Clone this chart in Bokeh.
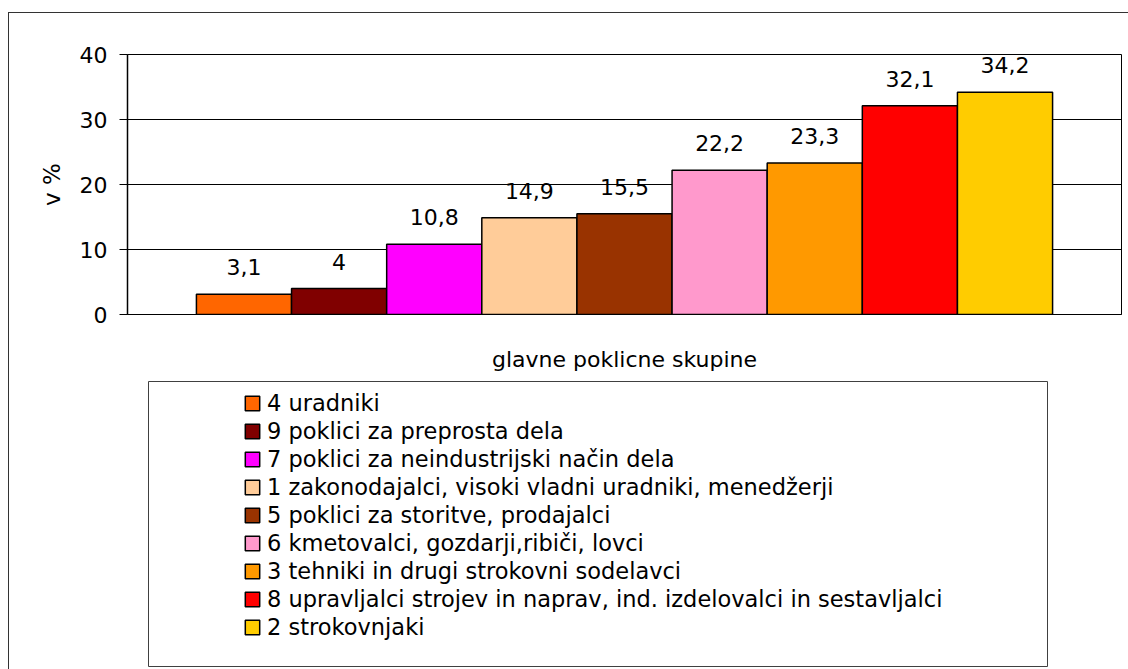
from bokeh.plotting import figure
from bokeh.models import (ColumnDataSource, Range1d, FixedTicker, LabelSet,
                          Legend, LegendItem, BoxAnnotation)
from bokeh.core.properties import value
from bokeh.layouts import column
from bokeh.embed import file_html
from bokeh.resources import INLINE

series = ["4 uradniki",
          "9 poklici za preprosta dela",
          "7 poklici za neindustrijski način dela",
          "1 zakonodajalci, visoki vladni uradniki, menedžerji",
          "5 poklici za storitve, prodajalci",
          "6 kmetovalci, gozdarji,ribiči, lovci",
          "3 tehniki in drugi strokovni sodelavci",
          "8 upravljalci strojev in naprav, ind. izdelovalci in sestavljalci",
          "2 strokovnjaki"]
values = [3.1, 4, 10.8, 14.9, 15.5, 22.2, 23.3, 32.1, 34.2]
colors = ["#FF6600", "#800000", "#FF00FF", "#FFCC99", "#993300",
          "#FF99CC", "#FF9900", "#FF0000", "#FFCC00"]
y_ticks = [0, 10, 20, 30, 40]
x_title = "glavne poklicne skupine"
y_title = "v %"

FONT = "DejaVu Sans"
n = len(series)
idx = list(range(n))
gap = 0.161 * n / 2          # Excel-like gap around the bar group
center = (n - 1) / 2

labels = [("%g" % v).replace(".", ",") for v in values]
src = ColumnDataSource(dict(x=idx, s=series, v=values, c=colors, lab=labels))

# ---------- chart ----------
p = figure(width=1119, height=366, output_backend="svg", toolbar_location=None,
           x_range=Range1d(-0.5 - gap, n - 0.5 + gap),
           y_range=Range1d(0, 40),
           min_border_left=118, min_border_right=7, min_border_top=41,
           min_border_bottom=65)
p.vbar(x="x", top="v", bottom=0, width=1.0, source=src, fill_color="c",
       line_color="black", line_width=1.5)
p.add_layout(LabelSet(x="x", y="v", text="lab", source=src, text_align="center",
                      text_baseline="alphabetic", y_offset=19,
                      text_font=value(FONT), text_font_size="22px",
                      text_color="black"))
p.outline_line_color = "black"
p.outline_line_width = 1
p.xgrid.visible = False
p.ygrid.grid_line_color = "black"
p.ygrid.grid_line_width = 1
p.yaxis.ticker = FixedTicker(ticks=y_ticks)
p.yaxis.major_tick_out = 8
p.yaxis.major_tick_in = 0
p.yaxis.minor_tick_line_color = None
p.yaxis.axis_line_color = "black"
p.yaxis.axis_line_width = 1.5
p.yaxis.major_label_text_font = FONT
p.yaxis.major_label_text_font_size = "22px"
p.yaxis.major_label_text_color = "black"
p.yaxis.major_label_standoff = 12
p.yaxis.axis_label = y_title
p.yaxis.axis_label_text_font = FONT
p.yaxis.axis_label_text_font_size = "23px"
p.yaxis.axis_label_text_font_style = "normal"
p.yaxis.axis_label_text_color = "black"
p.yaxis.axis_label_standoff = 12
p.xaxis.ticker = FixedTicker(ticks=[center])
p.xaxis.major_label_overrides = {center: x_title}
p.xaxis.major_tick_line_color = None
p.xaxis.minor_tick_line_color = None
p.xaxis.major_label_text_font = FONT
p.xaxis.major_label_text_font_size = "22px"
p.xaxis.major_label_text_color = "black"
p.xaxis.major_label_standoff = 26
p.xaxis.axis_line_color = "black"

# ---------- legend panel (frame aligned with the chart frame, 994 x 290 px) ----------
q = figure(width=1119, height=290, output_backend="svg", toolbar_location=None,
           x_range=Range1d(0, 994), y_range=Range1d(0, 290),
           x_axis_type=None, y_axis_type=None,
           min_border_left=118, min_border_right=7, min_border_top=0,
           min_border_bottom=0)
q.grid.visible = False
q.outline_line_color = None
# legend frame
q.add_layout(BoxAnnotation(left=21, right=920, bottom=3, top=288,
                           fill_alpha=0, line_color="#404040", line_alpha=1,
                           line_width=1))
# hidden proxy bars that only feed the legend glyphs
r = q.vbar(x="x", top="v", bottom=0, width=1.0, source=src, fill_color="c",
           line_color="black", line_width=1.5)
r.visible = False
items = [LegendItem(label=series[i], renderers=[r], index=i) for i in range(n)]
leg = Legend(items=items, location=(116, 29), padding=0, spacing=2,
             glyph_width=18, glyph_height=18, label_height=26, label_standoff=6,
             label_text_font=FONT, label_text_font_size="22.5px",
             label_text_color="black", click_policy="none",
             inactive_fill_alpha=0,
             border_line_color=None, background_fill_alpha=0)
q.add_layout(leg, "center")

lay = column(p, q, spacing=0,
             styles={"margin-left": "8px", "margin-top": "12px",
                     "border-left": "1px solid #333", "border-top": "1px solid #333"})

open("out.html", "w").write(file_html(lay, INLINE))
